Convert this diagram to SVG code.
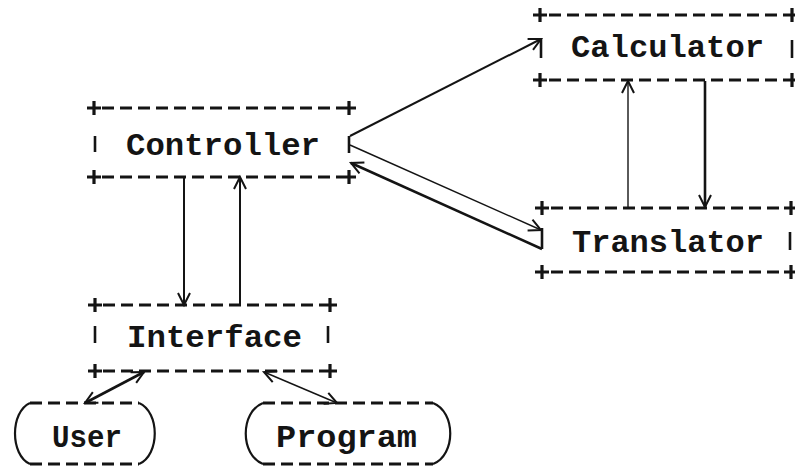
<svg xmlns="http://www.w3.org/2000/svg" width="795" height="469" viewBox="0 0 795 469">
  <style>
    .bg { fill: #ffffff; }
    .dash { stroke: #141414; stroke-width: 2.8; stroke-dasharray: 12 6; fill: none; }
    .side { stroke: #141414; stroke-width: 2.6; fill: none; }
    .arc { stroke: #141414; stroke-width: 2.2; fill: none; }
    .lbl { font-family: "Liberation Mono", "Courier New", monospace; font-size: 31px; fill: #141414; font-weight: bold; }
    .edge { stroke: #141414; fill: none; }
    .thin { stroke-width: 1.4; }
    .mid { stroke-width: 2; }
    .thick { stroke-width: 2.6; }
  </style>
  <defs>
    <path id="plus" d="M-7,0 H7 M0,-7 V7" stroke="#141414" stroke-width="3.2" fill="none"/>
    <marker id="head" markerUnits="userSpaceOnUse" markerWidth="16" markerHeight="14" refX="13" refY="6" orient="auto-start-reverse" overflow="visible">
      <path d="M1,0 L13,6 L1,12" fill="none" stroke="#141414" stroke-width="2"/>
    </marker>
  </defs>
  <rect class="bg" x="0" y="0" width="795" height="469"/>

  <!-- Calculator -->
  <g id="calculator">
    <line class="dash" x1="549" y1="15" x2="785" y2="15"/>
    <line class="dash" x1="549" y1="80" x2="785" y2="80"/>
    <use href="#plus" x="540" y="15"/>
    <use href="#plus" x="792" y="15"/>
    <use href="#plus" x="540" y="80"/>
    <use href="#plus" x="792" y="80"/>
    <line class="side" x1="541" y1="38" x2="541" y2="58"/>
    <line class="side" x1="792" y1="40" x2="792" y2="58"/>
    <text class="lbl" x="571" y="57" textLength="193" lengthAdjust="spacingAndGlyphs">Calculator</text>
  </g>

  <!-- Controller -->
  <g id="controller">
    <line class="dash" x1="102" y1="108" x2="342" y2="108"/>
    <line class="dash" x1="102" y1="177" x2="342" y2="177"/>
    <use href="#plus" x="94" y="108"/>
    <use href="#plus" x="349" y="108"/>
    <use href="#plus" x="94" y="177"/>
    <use href="#plus" x="349" y="177"/>
    <line class="side" x1="95" y1="136" x2="95" y2="152"/>
    <line class="side" x1="349" y1="136" x2="349" y2="153"/>
    <text class="lbl" x="126" y="155" textLength="194" lengthAdjust="spacingAndGlyphs">Controller</text>
  </g>

  <!-- Translator -->
  <g id="translator">
    <line class="dash" x1="551" y1="208" x2="784" y2="208"/>
    <line class="dash" x1="551" y1="272" x2="784" y2="272"/>
    <use href="#plus" x="542" y="208"/>
    <use href="#plus" x="791" y="208"/>
    <use href="#plus" x="542" y="272"/>
    <use href="#plus" x="791" y="272"/>
    <line class="side" x1="542" y1="228" x2="542" y2="249"/>
    <line class="side" x1="790" y1="232" x2="790" y2="250"/>
    <text class="lbl" x="572" y="252" textLength="192" lengthAdjust="spacingAndGlyphs">Translator</text>
  </g>

  <!-- Interface -->
  <g id="interface">
    <line class="dash" x1="103" y1="305" x2="323" y2="305"/>
    <line class="dash" x1="103" y1="371" x2="323" y2="371"/>
    <use href="#plus" x="95" y="305"/>
    <use href="#plus" x="330" y="305"/>
    <use href="#plus" x="95" y="371"/>
    <use href="#plus" x="330" y="371"/>
    <line class="side" x1="95" y1="326" x2="95" y2="343"/>
    <line class="side" x1="328" y1="326" x2="328" y2="343"/>
    <text class="lbl" x="127" y="347" textLength="175" lengthAdjust="spacingAndGlyphs">Interface</text>
  </g>

  <!-- User -->
  <g id="user">
    <line class="dash" x1="30" y1="403" x2="139" y2="403"/>
    <line class="dash" x1="30" y1="464" x2="139" y2="464"/>
    <path class="arc" d="M30,403 C10,412 10,455 30,464"/>
    <path class="arc" d="M139,403 C160,412 160,455 139,464"/>
    <text class="lbl" x="52" y="447" textLength="70" lengthAdjust="spacingAndGlyphs">User</text>
  </g>

  <!-- Program -->
  <g id="program">
    <line class="dash" x1="263" y1="403" x2="433" y2="403"/>
    <line class="dash" x1="263" y1="464" x2="433" y2="464"/>
    <path class="arc" d="M263,403 C240,412 240,455 263,464"/>
    <path class="arc" d="M433,403 C456,412 456,455 433,464"/>
    <text class="lbl" x="276" y="447" textLength="141" lengthAdjust="spacingAndGlyphs">Program</text>
  </g>

  <!-- Connectors -->
  <g id="connectors">
    <line class="edge mid" x1="350" y1="136" x2="541" y2="39" marker-end="url(#head)"/>
    <line class="edge thin" x1="350" y1="145" x2="541" y2="230" marker-end="url(#head)"/>
    <line class="edge thick" x1="542" y1="249" x2="351" y2="163" marker-end="url(#head)"/>
    <line class="edge mid" x1="184" y1="177" x2="184" y2="305" marker-end="url(#head)"/>
    <line class="edge mid" x1="240" y1="305" x2="240" y2="177" marker-end="url(#head)"/>
    <line class="edge thin" x1="628" y1="208" x2="628" y2="81" marker-end="url(#head)"/>
    <line class="edge thick" x1="705" y1="81" x2="705" y2="207" marker-end="url(#head)"/>
    <line class="edge thick" x1="85" y1="403" x2="144" y2="372" marker-start="url(#head)" marker-end="url(#head)"/>
    <line class="edge thin" x1="264" y1="372" x2="337" y2="403" marker-start="url(#head)" marker-end="url(#head)"/>
  </g>
</svg>
